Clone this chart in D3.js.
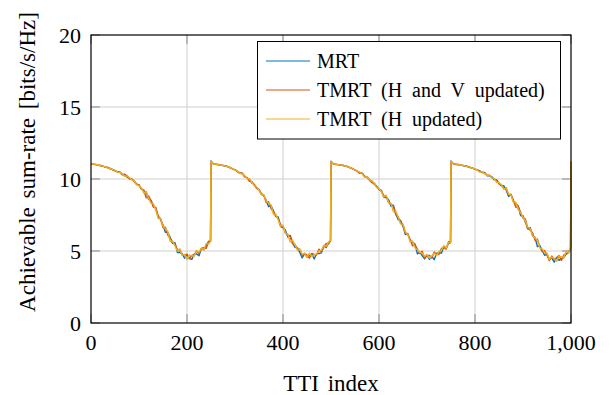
<!DOCTYPE html>
<html>
<head>
<meta charset="utf-8">
<script src="https://cdn.jsdelivr.net/npm/d3@7"></script>
<style>
  body { margin: 0; background: #fff; }
</style>
</head>
<body>
<div id="chart"></div>
<script>
// TTI sampling inside one 250-TTI period, and where each period starts
const cycleOffsets = [0, 5, 10, 15, 20, 25, 30, 35, 40, 45, 50, 55, 60, 65, 70, 75, 80, 85, 90, 95,
  100, 105, 110, 115, 120, 125, 130, 135, 140, 145, 150, 155, 160, 165, 170, 175, 180, 185, 190, 195,
  200, 205, 210, 215, 220, 225, 230, 235, 240, 245, 249];
const cycleStarts = [0, 250, 500, 750];
const lastTti = 1000;

// Sum-rate values [bits/s/Hz]
const mrt = [
  11.05, 11.03, 11.0, 10.97, 10.92, 10.9, 10.83, 10.8, 10.71, 10.66, 10.57, 10.51,
  10.47, 10.29, 10.33, 10.14, 10.07, 9.97, 9.86, 9.66, 9.57, 9.31,
  9.17, 9.07, 8.58, 8.52, 8.13, 8.0, 7.33, 7.2, 6.8, 6.3,
  6.3, 5.93, 5.53, 5.57, 4.9, 4.91, 4.82, 4.5, 4.77, 4.47,
  4.42, 4.79, 4.8, 4.67, 5.17, 5.08, 5.35, 5.65, 5.66,
  11.25, 11.05, 11.02, 11.01, 10.96, 10.94, 10.9, 10.86, 10.78, 10.71, 10.63, 10.54,
  10.43, 10.39, 10.17, 10.08, 9.99, 9.73, 9.62, 9.39, 9.27, 8.94,
  8.85, 8.53, 8.08, 8.15, 7.79, 7.39, 7.37, 6.7, 6.63, 6.44,
  5.97, 6.08, 5.57, 5.25, 5.22, 4.9, 4.52, 4.82, 4.57, 4.67,
  4.8, 4.44, 4.82, 4.83, 4.87, 5.37, 5.24, 5.6, 5.7,
  11.24, 11.05, 11.01, 11.0, 10.97, 10.94, 10.91, 10.85, 10.79, 10.7, 10.63, 10.53,
  10.43, 10.41, 10.16, 10.13, 9.97, 9.75, 9.71, 9.5, 9.27, 9.2,
  8.73, 8.71, 8.56, 8.1, 8.18, 7.59, 7.17, 7.12, 6.71, 6.15,
  6.22, 5.73, 5.6, 5.48, 4.8, 4.92, 4.68, 4.45, 4.74, 4.42,
  4.63, 4.4, 4.85, 4.87, 4.85, 5.3, 5.22, 5.52, 5.58,
  11.25, 11.05, 11.01, 11.01, 10.97, 10.93, 10.9, 10.87, 10.8, 10.75, 10.69, 10.63,
  10.57, 10.45, 10.46, 10.23, 10.22, 10.17, 9.95, 9.94, 9.69, 9.52,
  9.53, 9.24, 8.79, 8.95, 8.46, 8.29, 8.13, 7.46, 7.45, 7.0,
  6.55, 6.63, 6.05, 5.95, 5.3, 5.38, 5.05, 4.7, 4.78, 4.42,
  4.52, 4.23, 4.55, 4.35, 4.47, 4.54, 4.8, 4.92, 5.2,
  11.2
];

const tmrtHV = [
  11.06, 11.02, 11.01, 10.96, 10.94, 10.88, 10.85, 10.78, 10.73, 10.64, 10.59, 10.49,
  10.49, 10.33, 10.29, 10.24, 9.99, 10.01, 9.82, 9.62, 9.6, 9.31,
  9.22, 8.7, 8.83, 8.5, 8.03, 8.0, 7.43, 7.22, 6.63, 6.65,
  6.1, 5.88, 5.6, 5.45, 5.1, 5.09, 4.7, 4.73, 4.77, 4.48,
  4.7, 4.72, 5.03, 4.82, 5.18, 5.23, 5.18, 5.68, 5.7,
  11.2, 11.04, 11.03, 10.99, 10.98, 10.93, 10.91, 10.85, 10.8, 10.7, 10.64, 10.53,
  10.39, 10.42, 10.17, 10.1, 9.84, 9.83, 9.61, 9.35, 9.27, 8.98,
  8.87, 8.36, 8.43, 7.95, 7.74, 7.46, 7.25, 6.82, 6.73, 6.24,
  6.12, 6.0, 5.5, 5.45, 5.15, 5.13, 4.67, 4.83, 4.72, 4.5,
  4.83, 4.77, 4.73, 5.13, 4.93, 5.28, 5.52, 5.48, 5.74,
  11.21, 11.04, 11.03, 11.0, 10.96, 10.95, 10.89, 10.87, 10.78, 10.72, 10.62, 10.54,
  10.39, 10.41, 10.2, 10.14, 9.9, 9.89, 9.63, 9.48, 9.3, 9.15,
  8.85, 8.81, 8.36, 8.26, 8.1, 7.52, 7.37, 6.97, 6.86, 6.22,
  6.15, 5.8, 5.35, 5.43, 5.13, 4.83, 4.98, 4.51, 4.65, 4.7,
  4.51, 4.93, 4.75, 4.77, 5.18, 5.23, 5.13, 5.65, 5.62,
  11.2, 11.06, 11.02, 11.0, 10.96, 10.94, 10.91, 10.85, 10.81, 10.76, 10.68, 10.62,
  10.55, 10.48, 10.41, 10.28, 10.26, 10.09, 10.01, 9.91, 9.66, 9.6,
  9.38, 9.39, 8.86, 8.88, 8.53, 8.04, 8.08, 7.71, 7.28, 7.22,
  6.53, 6.46, 6.25, 5.75, 5.83, 5.28, 4.95, 5.03, 4.71, 4.33,
  4.65, 4.41, 4.53, 4.68, 4.35, 4.72, 4.78, 4.9, 5.2,
  11.2
];

const tmrtH = [
  11.05, 11.04, 10.99, 10.99, 10.91, 10.89, 10.86, 10.77, 10.73, 10.65, 10.61, 10.48,
  10.46, 10.36, 10.19, 10.22, 10.09, 9.94, 9.91, 9.61, 9.53, 9.39,
  9.02, 9.15, 8.65, 8.32, 8.28, 7.85, 7.26, 7.27, 6.73, 6.55,
  6.35, 5.68, 5.7, 5.35, 5.0, 5.16, 4.7, 4.78, 4.4, 4.73,
  4.68, 4.62, 5.03, 4.92, 5.2, 5.06, 5.53, 5.48, 5.68,
  11.22, 11.06, 11.01, 11.0, 10.96, 10.95, 10.89, 10.87, 10.78, 10.72, 10.62, 10.55,
  10.38, 10.35, 10.25, 10.02, 10.02, 9.76, 9.54, 9.45, 9.21, 8.91,
  8.92, 8.46, 8.33, 8.2, 7.54, 7.56, 7.15, 6.72, 6.8, 6.24,
  6.17, 5.63, 5.75, 5.43, 5.05, 5.13, 4.77, 4.85, 4.55, 4.85,
  4.63, 4.72, 4.8, 5.01, 5.05, 5.38, 5.32, 5.63, 5.72,
  11.2, 11.06, 11.02, 10.99, 10.98, 10.93, 10.9, 10.85, 10.8, 10.7, 10.64, 10.52,
  10.49, 10.35, 10.13, 10.16, 9.94, 9.85, 9.73, 9.4, 9.34, 9.11,
  8.75, 8.88, 8.36, 8.31, 7.73, 7.77, 7.35, 6.87, 6.86, 6.32,
  6.17, 5.63, 5.7, 5.23, 5.08, 4.9, 4.86, 4.63, 4.75, 4.5,
  4.66, 4.85, 4.68, 4.97, 5.03, 5.38, 5.2, 5.58, 5.6,
  11.22, 11.05, 11.03, 10.99, 10.97, 10.95, 10.89, 10.86, 10.82, 10.74, 10.7, 10.61,
  10.47, 10.52, 10.37, 10.24, 10.29, 10.09, 10.03, 9.76, 9.76, 9.59,
  9.28, 9.39, 8.96, 8.9, 8.36, 8.39, 7.88, 7.66, 7.35, 7.1,
  6.65, 6.56, 6.05, 5.9, 5.75, 5.2, 5.15, 4.88, 4.86, 4.4,
  4.58, 4.48, 4.28, 4.63, 4.6, 4.55, 5.0, 4.88, 5.25,
  11.2
];

const seriesNames = ["MRT", "TMRT (H and V updated)", "TMRT (H updated)"];
const seriesColors = ["#0072bd", "#d95319", "#edb120"];
const xTicks = [0, 200, 400, 600, 800, 1000];
const yTicks = [0, 5, 10, 15, 20];

// TTI index for every sample
const tti = [];
cycleStarts.forEach((s) => cycleOffsets.forEach((o) => tti.push(s + o)));
tti.push(lastTti);

// Set margins and dimensions
const width = 610;
const height = 395;
const margin = { top: 35, right: 39, bottom: 72, left: 91 };
const serif = "'Liberation Serif', 'Times New Roman', Tinos, 'DejaVu Serif', 'Noto Serif', serif";

const svg = d3
  .select("#chart")
  .append("svg")
  .attr("width", width)
  .attr("height", height)
  .style("font-family", serif);

const x = d3.scaleLinear().domain([0, 1000]).range([margin.left, width - margin.right]);
const y = d3.scaleLinear().domain([0, 20]).range([height - margin.bottom, margin.top]);
const x0 = margin.left, x1 = width - margin.right;
const y0 = height - margin.bottom, y1 = margin.top;

// Grid lines
svg.append("g")
  .selectAll("line")
  .data(xTicks.slice(1, -1))
  .join("line")
  .attr("x1", (d) => x(d)).attr("x2", (d) => x(d))
  .attr("y1", y1).attr("y2", y0)
  .attr("stroke", "#cfcfcf").attr("stroke-width", 1);
svg.append("g")
  .selectAll("line")
  .data(yTicks.slice(1, -1))
  .join("line")
  .attr("x1", x0).attr("x2", x1)
  .attr("y1", (d) => y(d)).attr("y2", (d) => y(d))
  .attr("stroke", "#cfcfcf").attr("stroke-width", 1);

// Inward tick marks on all four sides
const tickLen = 9;
const tickG = svg.append("g").attr("stroke", "#8a8a8a").attr("stroke-width", 1);
xTicks.forEach((t) => {
  tickG.append("line").attr("x1", x(t)).attr("x2", x(t)).attr("y1", y0).attr("y2", y0 - tickLen);
  tickG.append("line").attr("x1", x(t)).attr("x2", x(t)).attr("y1", y1).attr("y2", y1 + tickLen);
});
yTicks.forEach((t) => {
  tickG.append("line").attr("x1", x0).attr("x2", x0 + tickLen).attr("y1", y(t)).attr("y2", y(t));
  tickG.append("line").attr("x1", x1).attr("x2", x1 - tickLen).attr("y1", y(t)).attr("y2", y(t));
});

// Lines
const line = d3.line().x((d, i) => x(tti[i])).y((d) => y(d));
[mrt, tmrtHV, tmrtH].forEach((vals, k) => {
  svg.append("path")
    .datum(vals)
    .attr("fill", "none")
    .attr("stroke", seriesColors[k])
    .attr("stroke-width", 1.4)
    .attr("stroke-linejoin", "round")
    .attr("d", line);
});

// Frame
svg.append("rect")
  .attr("x", x0).attr("y", y1)
  .attr("width", x1 - x0).attr("height", y0 - y1)
  .attr("fill", "none").attr("stroke", "#000").attr("stroke-width", 1.2);

// Tick labels
svg.append("g")
  .selectAll("text")
  .data(xTicks)
  .join("text")
  .attr("x", (d) => x(d))
  .attr("y", y0 + 27)
  .attr("text-anchor", "middle")
  .attr("font-family", serif)
  .attr("font-size", "22px")
  .text((d) => d3.format(",")(d));
svg.append("g")
  .selectAll("text")
  .data(yTicks)
  .join("text")
  .attr("x", x0 - 10)
  .attr("y", (d) => y(d))
  .attr("dy", "0.35em")
  .attr("text-anchor", "end")
  .attr("font-family", serif)
  .attr("font-size", "22px")
  .text((d) => d);

// Axis labels
svg.append("text")
  .attr("x", (x0 + x1) / 2)
  .attr("y", 391)
  .attr("text-anchor", "middle")
  .attr("font-family", serif)
  .attr("font-size", "23px")
  .attr("word-spacing", "3px")
  .text("TTI index");
svg.append("text")
  .attr("transform", `translate(35,${(y0 + y1) / 2 - 17}) rotate(-90)`)
  .attr("text-anchor", "middle")
  .attr("font-family", serif)
  .attr("font-size", "23px")
  .attr("word-spacing", "3px")
  .text("Achievable sum-rate [bits/s/Hz]");

// Legend
const legend = svg.append("g");
legend.append("rect")
  .attr("x", 257.5).attr("y", 41.5)
  .attr("width", 303).attr("height", 97.5)
  .attr("fill", "#fff").attr("stroke", "#000").attr("stroke-width", 1);
seriesNames.forEach((name, k) => {
  const ly = 61 + k * 29;
  legend.append("line")
    .attr("x1", 266).attr("x2", 310)
    .attr("y1", ly).attr("y2", ly)
    .attr("stroke", seriesColors[k]).attr("stroke-width", 1.2);
  legend.append("text")
    .attr("x", 317).attr("y", ly)
    .attr("dy", "0.35em")
    .attr("font-family", serif)
    .attr("font-size", "20px")
    .attr("word-spacing", "5px")
    .text(name);
});
</script>
</body>
</html>
